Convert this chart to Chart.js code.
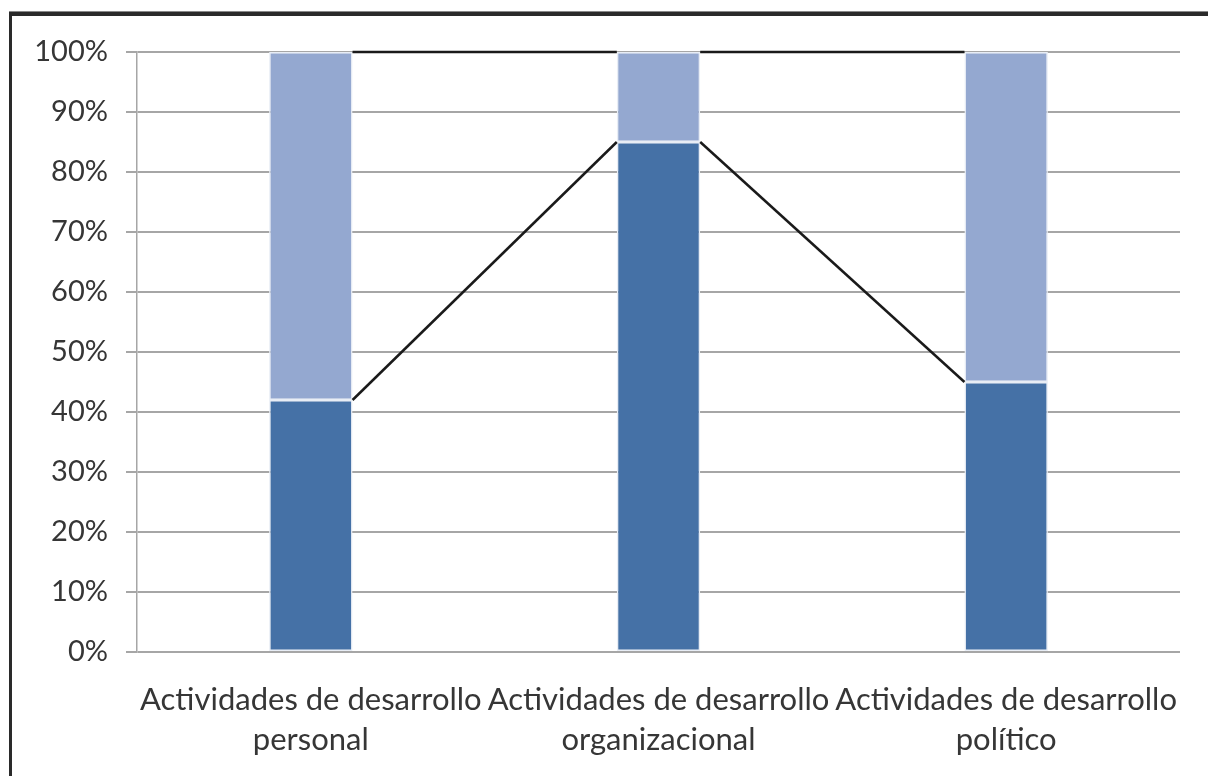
<!DOCTYPE html>
<html>
<head>
<meta charset="utf-8">
<script src="https://cdn.jsdelivr.net/npm/chart.js@4/dist/chart.umd.min.js"></script>
<style>
  html, body { margin: 0; padding: 0; background: #ffffff; }
  #wrap { position: relative; width: 1208px; height: 776px; overflow: hidden; background: #fff; }
  #frame { position: absolute; left: 9px; top: 12px; width: 1300px; height: 900px;
           border-top: 4px solid #2a2a2a; border-left: 3px solid #2a2a2a; box-sizing: border-box;
           box-shadow: 0 -1px 0 #888; }
  #c { position: absolute; left: 0; top: 0; }
</style>
</head>
<body>
<div id="wrap">
  <div id="frame"></div>
  <canvas id="c" width="1208" height="776"></canvas>
</div>
<script>
const categories = [
  ["Actividades de desarrollo", "personal"],
  ["Actividades de desarrollo", "organizacional"],
  ["Actividades de desarrollo", "político"]
];
const seriesLower = [42, 85, 45];
const seriesUpper = [58, 15, 55];
const yTicks = [0, 10, 20, 30, 40, 50, 60, 70, 80, 90, 100];

const darkBlue = "#4571a6";
const lightBlue = "#94a8d0";
const textColor = "#363636";
const gridColor = "#a6a6a6";

const seriesLines = {
  id: "seriesLines",
  afterDatasetsDraw(chart) {
    const ctx = chart.ctx;
    ctx.save();
    ctx.strokeStyle = "#1a1a1a";
    ctx.lineWidth = 2.5;
    chart.data.datasets.forEach((ds, di) => {
      const meta = chart.getDatasetMeta(di);
      for (let i = 0; i < meta.data.length - 1; i++) {
        const a = meta.data[i], b = meta.data[i + 1];
        ctx.beginPath();
        ctx.moveTo(a.x + a.width / 2, a.y);
        ctx.lineTo(b.x - b.width / 2, b.y);
        ctx.stroke();
      }
    });
    ctx.restore();
  }
};

new Chart(document.getElementById("c"), {
  type: "bar",
  data: {
    labels: categories,
    datasets: [
      { label: "A", data: seriesLower, backgroundColor: darkBlue, borderColor: "#e8edf5", borderWidth: 1.5, borderSkipped: false, categoryPercentage: 1, barPercentage: 0.24 },
      { label: "B", data: seriesUpper, backgroundColor: lightBlue, borderColor: "#e8edf5", borderWidth: 1.5, borderSkipped: false, categoryPercentage: 1, barPercentage: 0.24 }
    ]
  },
  options: {
    responsive: false,
    animation: false,
    devicePixelRatio: 1,
    layout: { padding: { top: 52, right: 28, left: 0, bottom: 0 } },
    plugins: { legend: { display: false }, tooltip: { enabled: false } },
    scales: {
      x: {
        stacked: true,
        grid: { display: false },
        border: { display: false },
        ticks: {
          color: textColor,
          font: { family: "Lato", size: 31, lineHeight: 1.3 },
          maxRotation: 0, minRotation: 0, autoSkip: false,
          padding: 20
        },
        afterFit(scale) { scale.height = 124; }
      },
      y: {
        stacked: true,
        min: 0, max: 100,
        afterBuildTicks(scale) { scale.ticks = yTicks.map(v => ({ value: v })); },
        grid: { color: gridColor, lineWidth: 2, tickLength: 11, drawTicks: true },
        border: { display: true, color: gridColor, width: 1.5 },
        ticks: {
          color: textColor,
          font: { family: "Lato", size: 29 },
          padding: 18,
          callback: v => v + "%"
        },
        afterFit(scale) { scale.width = 137; }
      }
    }
  },
  plugins: [seriesLines]
});
</script>
</body>
</html>
